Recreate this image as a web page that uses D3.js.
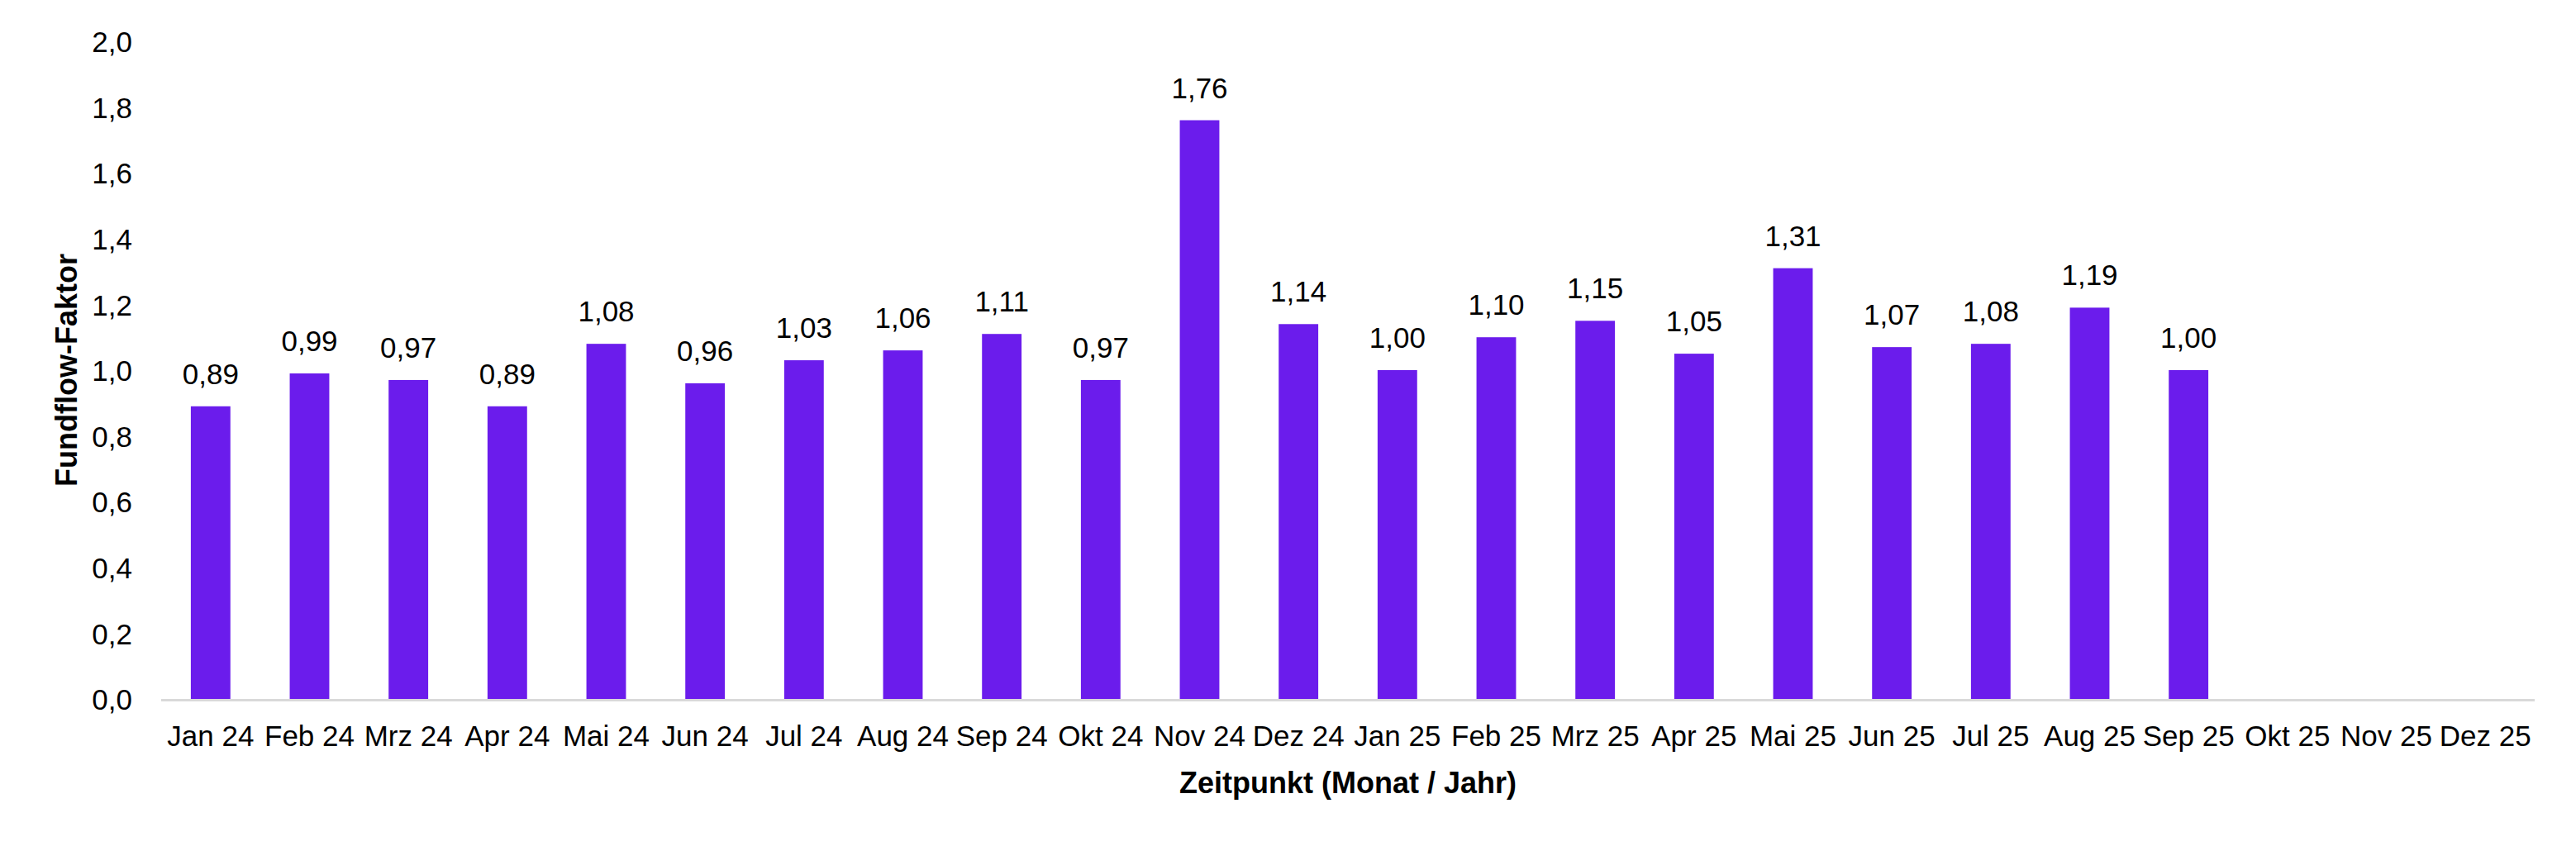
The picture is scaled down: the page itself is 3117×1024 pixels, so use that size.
<!DOCTYPE html>
<html>
<head>
<meta charset="utf-8">
<script src="https://cdn.jsdelivr.net/npm/d3@7"></script>
<style>
  html, body { margin: 0; padding: 0; background: #ffffff; }
  svg { display: block; }
  text { font-family: "Liberation Sans", Arial, sans-serif; fill: #000; }
</style>
</head>
<body>
<script>
const categories = ["Jan 24","Feb 24","Mrz 24","Apr 24","Mai 24","Jun 24","Jul 24","Aug 24","Sep 24","Okt 24","Nov 24","Dez 24",
                    "Jan 25","Feb 25","Mrz 25","Apr 25","Mai 25","Jun 25","Jul 25","Aug 25","Sep 25","Okt 25","Nov 25","Dez 25"];
const values = [0.89,0.99,0.97,0.89,1.08,0.96,1.03,1.06,1.11,0.97,1.76,1.14,
                1.00,1.10,1.15,1.05,1.31,1.07,1.08,1.19,1.00,null,null,null];
const yTicks = [0,0.2,0.4,0.6,0.8,1.0,1.2,1.4,1.6,1.8,2.0];
const xTitle = "Zeitpunkt (Monat / Jahr)";
const yTitle = "Fundflow-Faktor";

const W = 3117, H = 1024;
const pLeft = 195, pRight = 3067, pTop = 50, pBottom = 846;
const fmt = v => d3.format(".2f")(v).replace(".", ",");
const fmtTick = v => d3.format(".1f")(v).replace(".", ",");

const svg = d3.select("body").append("svg").attr("width", W).attr("height", H);

const x = d3.scaleBand().domain(categories).range([pLeft, pRight]).paddingInner(0.6).paddingOuter(0.3);
const y = d3.scaleLinear().domain([0, 2]).range([pBottom, pTop]);

// y tick labels
const yAxis = d3.axisLeft(y).tickValues(yTicks).tickFormat(fmtTick).tickSize(0).tickPadding(0);
const yg = svg.append("g").attr("transform", `translate(160,0)`).call(yAxis);
yg.select(".domain").remove();
yg.selectAll("text").attr("font-size", 35).attr("font-family", '"Liberation Sans", Arial, sans-serif').attr("fill", "#000").attr("dy", "0.36em");

// bars
const data = categories.map((c, i) => ({ c, v: values[i] })).filter(d => d.v != null);
svg.append("g").selectAll("rect").data(data).join("rect")
  .attr("x", d => x(d.c))
  .attr("width", x.bandwidth())
  .attr("y", d => y(d.v))
  .attr("height", d => y(0) - y(d.v))
  .attr("fill", "#6B1CEC");

// value labels
svg.append("g").selectAll("text").data(data).join("text")
  .attr("x", d => x(d.c) + x.bandwidth() / 2)
  .attr("y", d => y(d.v) - 27)
  .attr("text-anchor", "middle")
  .attr("font-size", 35)
  .text(d => fmt(d.v));

// x axis
const xAxis = d3.axisBottom(x).tickSize(0).tickPadding(0);
const xg = svg.append("g").attr("transform", `translate(0,${pBottom})`).call(xAxis);
xg.select(".domain").remove();
xg.selectAll("text").attr("font-size", 35).attr("font-family", '"Liberation Sans", Arial, sans-serif').attr("fill", "#000")
  .attr("dy", null).attr("y", 57);

svg.append("line")
  .attr("x1", pLeft).attr("x2", pRight)
  .attr("y1", pBottom + 1.5).attr("y2", pBottom + 1.5)
  .attr("stroke", "#d9d9d9").attr("stroke-width", 3);

// axis titles
svg.append("text")
  .attr("x", (pLeft + pRight) / 2)
  .attr("y", 960)
  .attr("text-anchor", "middle")
  .attr("font-size", 36)
  .attr("font-weight", "bold")
  .text(xTitle);

svg.append("text")
  .attr("transform", `translate(93,${(pTop + pBottom) / 2}) rotate(-90)`)
  .attr("text-anchor", "middle")
  .attr("font-size", 36)
  .attr("font-weight", "bold")
  .text(yTitle);
</script>
</body>
</html>
